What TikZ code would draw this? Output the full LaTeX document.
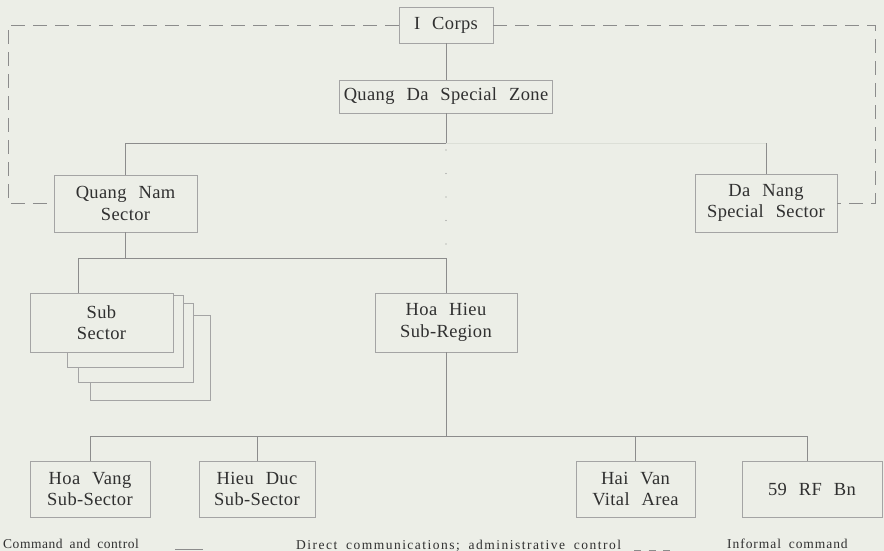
\documentclass[tikz,border=0pt]{standalone}
\usepackage{fontspec}
\setmainfont{Liberation Serif}
\newfontfamily\boxfont{Liberation Serif}[WordSpace=2.4,LetterSpace=2]
\newfontfamily\legfont{Liberation Serif}[WordSpace=1.8,LetterSpace=4]
\definecolor{bgc}{HTML}{ECEEE7}
\definecolor{linec}{HTML}{8C8C8C}
\definecolor{boxc}{HTML}{A4A4A4}
\definecolor{faintc}{HTML}{DCDFD7}
\definecolor{txtc}{HTML}{303030}
\begin{document}
\begin{tikzpicture}[x=1pt,y=-1pt,
  box/.style={draw=boxc, line width=0.8pt, fill=bgc, inner sep=0pt, align=center, text=txtc,
    font=\boxfont\fontsize{18.5}{21.5}\selectfont},
  conn/.style={draw=linec, line width=0.8pt},
  dashconn/.style={draw=linec, line width=0.8pt, dash pattern=on 14pt off 8pt},
  dotconn/.style={draw=linec, line width=1.3pt, line cap=round, dash pattern=on 0pt off 23.5pt},
  leg/.style={inner sep=0pt, text=txtc, font=\legfont\fontsize{13.5}{16}\selectfont},
  legline/.style={draw=linec, line width=0.8pt}]
\fill[bgc] (0,0) rectangle (884,551);
\useasboundingbox (0,0) rectangle (884,551);

% nodes
\node[box, minimum width=94pt, minimum height=36pt] (icorps) at (446,25) {I Corps};
\node[box, minimum width=213pt, minimum height=33pt] (qdsz) at (446,96.5) {Quang Da Special Zone};
\node[box, minimum width=143pt, minimum height=57pt] (qnam) at (125.5,203.5) {Quang Nam\\Sector};
\node[box, minimum width=142pt, minimum height=58pt] (dnss) at (766,203) {Da Nang\\Special Sector};

\node[box, minimum width=120pt, minimum height=85pt] (ss4) at (150,357.5) {};
\node[box, minimum width=115pt, minimum height=79pt] (ss3) at (135.5,342.5) {};
\node[box, minimum width=116pt, minimum height=72pt] (ss2) at (125,331) {};
\node[box, minimum width=143pt, minimum height=59pt] (ss1) at (101.5,322.5) {Sub\\Sector};

\node[box, minimum width=142pt, minimum height=59pt] (hhsr) at (446,322.5) {Hoa Hieu\\Sub-Region};

\node[box, minimum width=120pt, minimum height=56pt] (hva) at (90,489) {Hoa Vang\\Sub-Sector};
\node[box, minimum width=116pt, minimum height=56pt] (hdss) at (257,489) {Hieu Duc\\Sub-Sector};
\node[box, minimum width=119pt, minimum height=56pt] (hvva) at (635.5,489) {Hai Van\\Vital Area};
\node[box, minimum width=140pt, minimum height=56pt] (rfbn) at (812,489) {59 RF Bn};

% junction coordinates
\coordinate (j1) at (446,143);
\coordinate (j2) at (446,258);
\coordinate (j5) at (78,258);
\coordinate (j4) at (446,436);
\coordinate (dt1) at (446,150);
\coordinate (dt2) at (446,252);
\coordinate (dl) at (8,203.5);
\coordinate (dr) at (875,203);
\coordinate (t4) at (807,436);

% command lines
\draw[conn] (icorps.south) -- (qdsz.north);
\draw[conn] (qdsz.south) -- (j1) -| (qnam.north);
\draw[conn, draw=faintc] (j1) -- (j1 -| dnss.north);
\draw[conn] (dnss.north |- j1) -- (dnss.north);
\draw[dotconn] (dt1) -- (dt2);
\draw[conn] (qnam.south) -- (qnam.south |- j2);
\draw[conn] (j5 |- ss1.north) -- (j5) -- (j2) -- (hhsr.north);
\draw[conn] (hhsr.south) -- (j4);
\draw[conn] (hva.north) |- (t4) -- (t4 |- rfbn.north);
\draw[conn] (hdss.north) -- (hdss.north |- j4);
\draw[conn] (hvva.north) -- (hvva.north |- j4);

% dashed lines
\draw[dashconn] (icorps.west) -| (dl) -- (qnam.west);
\draw[dashconn] (icorps.east) -| (dr) -- (dnss.east);

% legend
\node[leg, anchor=base west] (lg1) at (3,548) {Command and control};
\node[leg, anchor=base west, font=\legfont\fontsize{13.5}{16}\selectfont\addfontfeature{LetterSpace=11}] (lg2) at (296,549) {Direct communications; administrative control};
\node[leg, anchor=base west, font=\legfont\fontsize{13.5}{16}\selectfont\addfontfeature{LetterSpace=7}] (lg3) at (727,548) {Informal command};
\coordinate (la1) at (175,549);
\coordinate (la2) at (203,549);
\coordinate (lb1) at (634,550);
\coordinate (lb2) at (671,550);
\draw[legline] (la1) -- (la2);
\draw[legline, dash pattern=on 7pt off 7.5pt] (lb1) -- (lb2);
\end{tikzpicture}
\end{document}
